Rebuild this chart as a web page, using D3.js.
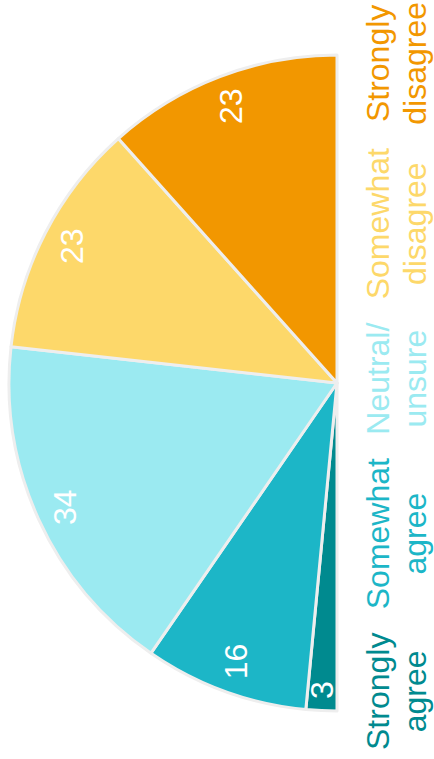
<!DOCTYPE html>
<html>
<head>
<meta charset="utf-8">
<script src="https://cdn.jsdelivr.net/npm/d3@7/dist/d3.min.js"></script>
<style>
  html, body { margin: 0; padding: 0; background: #ffffff; }
  svg { display: block; font-family: "Liberation Sans", Arial, Helvetica, sans-serif; }
</style>
</head>
<body>
<svg id="chart" width="434" height="759"></svg>
<script>
const categories = ["Strongly agree", "Somewhat agree", "Neutral/unsure", "Somewhat disagree", "Strongly disagree"];
const labelLines = [["Strongly", "agree"], ["Somewhat", "agree"], ["Neutral/", "unsure"], ["Somewhat", "disagree"], ["Strongly", "disagree"]];
const values = [3, 16, 34, 23, 23];
const colors = ["#008a8f", "#1cb6c7", "#9beaf1", "#fdd86a", "#f29700"];

(function() {
const cx = 337, cy = 383, R = 328;
const valFont = 32, catFont = 32;

const svg = d3.select("#chart");
const data = categories.map((c, i) => ({ cat: c, value: values[i], lines: labelLines[i], color: colors[i] }));

const pie = d3.pie().value(d => d.value).sort(null)
  .startAngle(Math.PI).endAngle(2 * Math.PI);
const arcs = pie(data);
const arc = d3.arc().innerRadius(0).outerRadius(R);

const g = svg.append("g").attr("transform", `translate(${cx},${cy})`);

g.selectAll("path.slice").data(arcs).join("path")
  .attr("class", "slice")
  .attr("d", arc)
  .attr("fill", d => d.data.color)
  .attr("stroke", "#eeeeee")
  .attr("stroke-width", 3)
  .attr("stroke-linejoin", "round");

// value labels: placed along the mid-angle so that their box fits inside the arc
const fitR = R - 11;
g.selectAll("text.val").data(arcs).join("text")
  .attr("class", "val")
  .attr("text-anchor", "middle")
  .attr("dominant-baseline", "central")
  .attr("fill", "#ffffff")
  .attr("font-size", valFont)
  .text(d => d.data.value)
  .each(function(d) {
    const len = this.getComputedTextLength();
    const a = (d.startAngle + d.endAngle) / 2;
    const ux = Math.sin(a), uy = -Math.cos(a);
    const hx = valFont * 0.36, hy = len / 2;
    const c = [Math.sign(ux) * hx, Math.sign(uy) * hy];
    const uc = ux * c[0] + uy * c[1];
    const cc = c[0] * c[0] + c[1] * c[1];
    const r = -uc + Math.sqrt(uc * uc - cc + fitR * fitR);
    d3.select(this).attr("transform", `translate(${r * ux},${r * uy}) rotate(-90)`);
  });

// category labels: flowed along the right side, evenly gapped
const leg = svg.selectAll("text.cat").data(data).join("text")
  .attr("class", "cat")
  .attr("text-anchor", "middle")
  .attr("fill", d => d.color)
  .attr("font-size", catFont);
leg.selectAll("tspan").data(d => d.lines).join("tspan")
  .attr("x", 0)
  .attr("y", (d, i) => i * 37)
  .text(d => d);

const widths = [];
leg.each(function() {
  let m = 0;
  d3.select(this).selectAll("tspan").each(function() { m = Math.max(m, this.getComputedTextLength()); });
  widths.push(m);
});
const yBottom = 750, yTop = 2;
const gap = ((yBottom - yTop) - d3.sum(widths)) / (widths.length - 1);
let pos = yBottom;
const centers = widths.map(w => { const c = pos - w / 2; pos -= w + gap; return c; });
leg.attr("transform", (d, i) => `translate(389,${centers[i]}) rotate(-90)`);
})();
</script>
</body>
</html>
